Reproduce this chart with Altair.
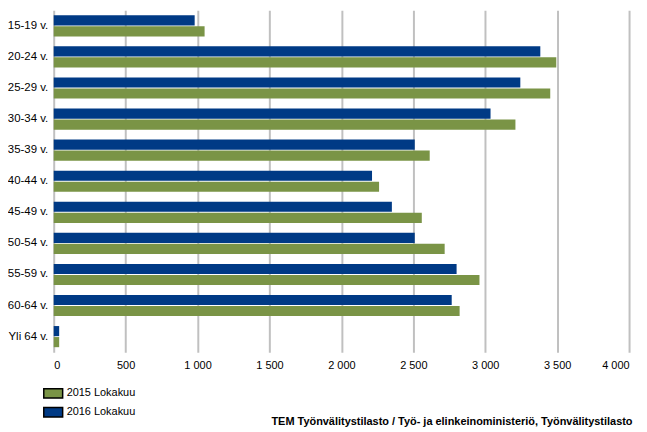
import altair as alt
import pandas as pd

categories = ["15-19 v.", "20-24 v.", "25-29 v.", "30-34 v.", "35-39 v.", "40-44 v.",
              "45-49 v.", "50-54 v.", "55-59 v.", "60-64 v.", "Yli 64 v."]
values_2015 = [1049, 3494, 3452, 3210, 2614, 2262, 2559, 2718, 2960, 2822, 38]
values_2016 = [980, 3383, 3244, 3037, 2510, 2213, 2351, 2510, 2801, 2767, 38]
series = ["2015 Lokakuu", "2016 Lokakuu"]
x_ticks = [0, 500, 1000, 1500, 2000, 2500, 3000, 3500, 4000]
source_text = "TEM Työnvälitystilasto / Työ- ja elinkeinoministeriö, Työnvälitystilasto"

rows = []
for c, v in zip(categories, values_2015):
    rows.append({"ika": c, "sarja": series[0], "arvo": v})
for c, v in zip(categories, values_2016):
    rows.append({"ika": c, "sarja": series[1], "arvo": v})
df = pd.DataFrame(rows)

FONT = "Liberation Sans"

chart = alt.Chart(df).mark_bar().encode(
    y=alt.Y("ika:N", sort=categories,
            scale=alt.Scale(paddingInner=0.32, paddingOuter=0.16),
            axis=alt.Axis(title=None, ticks=False, domain=False, labelPadding=6,
                          labelFontSize=11.5, labelColor="#000000", labelFont=FONT,
                          grid=False)),
    yOffset=alt.YOffset("sarja:N", sort=[series[1], series[0]],
                        scale=alt.Scale(paddingInner=0.08)),
    x=alt.X("arvo:Q",
            scale=alt.Scale(domain=[0, 4000], nice=False),
            axis=alt.Axis(values=x_ticks, title=source_text,
                          labelExpr="replace(format(datum.value, ','), ',', ' ')",
                          labelFontSize=11, labelColor="#000000", labelFont=FONT,
                          labelPadding=7, ticks=False, domain=False,
                          grid=True, gridColor="#c0c0c0", gridWidth=2,
                          titleX=582, titleY=73, titleAlign="right",
                          titleBaseline="alphabetic", titleFontSize=11,
                          titleFontWeight="bold", titleFont=FONT, titleColor="#000000")),
    color=alt.Color("sarja:N",
                    scale=alt.Scale(domain=series, range=["#7a9446", "#003a85"]),
                    legend=alt.Legend(title=None, orient="none", legendX=-11, legendY=375,
                                      symbolType="M-1,-0.5L1,-0.5L1,0.5L-1,0.5Z",
                                      symbolSize=361, symbolStrokeColor="#000000",
                                      symbolStrokeWidth=1.5, labelFontSize=11,
                                      labelFont=FONT, labelColor="#000000",
                                      rowPadding=-4, labelOffset=3, padding=0)),
).properties(
    width=579,
    height=344,
    autosize=alt.AutoSizeParams(type="none"),
    padding={"left": 46, "top": 1, "right": 10, "bottom": 76},
).configure_view(stroke=None)

chart.save("out.html", embed_options={"renderer": "svg", "actions": False})
